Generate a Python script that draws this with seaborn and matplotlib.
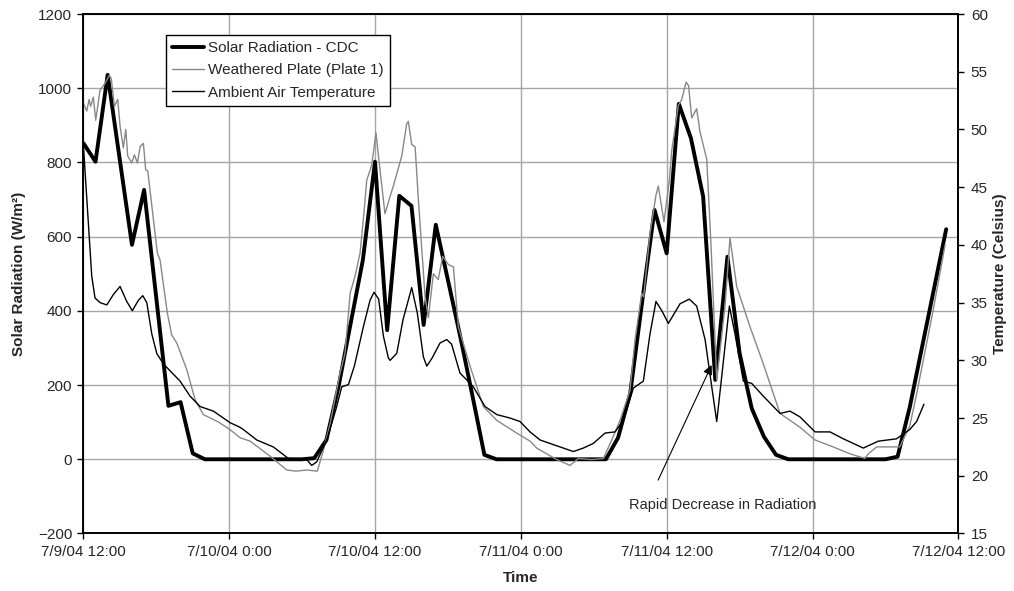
import matplotlib
matplotlib.use("Agg")
import matplotlib.pyplot as plt
import numpy as np
import pandas as pd
import seaborn as sns

# ---------------- data ----------------
# hours since 7/9/04 12:00
solar_hours = list(range(72))
solar_rad = [852, 802, 1036, 807, 578, 726, 435, 144, 154, 16,
             0, 0, 0, 0, 0, 0, 0, 0, 0, 3,
             52, 196, 367, 537, 802, 348, 710, 683, 362, 632,
             483, 333, 174, 12, 0, 0, 0, 0, 0, 0,
             0, 0, 0, 0, 58, 178, 429, 672, 555, 958,
             865, 708, 214, 546, 286, 137, 61, 12, 0, 0,
             0, 0, 0, 0, 0, 0, 0, 7, 140, 300,
             460, 620]

plate_hours = [0, 0.28, 0.47, 0.6, 0.82, 1.02, 1.37, 1.79, 2.14, 2.3,
               2.55, 2.83, 3.02, 3.29, 3.49, 3.65, 3.98, 4.2, 4.45, 4.67,
               4.94, 5.13, 5.3, 6.09, 6.31, 6.91, 7.27, 7.69, 8.51, 9.19,
               9.87, 10.84, 11.2, 12.07, 12.89, 13.72, 15.36, 16.74, 17.5, 18.38,
               19.25, 19.75, 20.3, 21.12, 21.53, 21.95, 22.36, 22.77, 23.04, 23.32,
               23.73, 24.08, 24.41, 24.82, 25.24, 25.51, 26.2, 26.61, 26.74, 27.02,
               27.3, 27.57, 28.12, 28.39, 28.8, 29.2, 29.57, 30.03, 30.45, 30.86,
               31.82, 32.91, 34.02, 35.66, 36.76, 37.31, 38.95, 40.05, 40.73, 41.83,
               42.79, 43.48, 44.16, 44.98, 45.4, 45.95, 46.1, 46.63, 47.12, 47.31,
               47.78, 48.22, 48.42, 48.96, 49.24, 49.6, 49.8, 50.06, 50.47, 50.74,
               51.3, 51.63, 52.12, 52.8, 53.21, 53.76, 54.86, 55.95, 57.33, 58.97,
               60.21, 61.71, 63.09, 64.32, 64.59, 65.28, 66.08, 67.18, 68.0, 68.57,
               69.94, 70.91]
plate_temp = [52.3, 51.6, 52.6, 52.0, 52.8, 50.8, 53.4, 54.0, 54.7, 54.4,
              52.0, 52.6, 50.3, 48.4, 50.0, 47.7, 47.1, 47.8, 47.1, 48.5,
              48.8, 46.5, 46.4, 39.3, 38.7, 34.1, 32.2, 31.5, 29.2, 26.6,
              25.3, 24.8, 24.6, 24.0, 23.3, 23.0, 21.7, 20.5, 20.4, 20.5,
              20.4, 22.2, 24.5, 28.9, 30.6, 35.8, 37.3, 39.3, 42.2, 45.6,
              46.9, 49.7, 46.5, 42.7, 44.2, 45.1, 47.7, 50.5, 50.7, 48.7,
              48.5, 43.9, 35.5, 33.7, 37.5, 37.0, 39.0, 38.3, 38.1, 32.9,
              29.5, 26.0, 24.8, 23.7, 23.0, 22.4, 21.4, 20.9, 21.5, 21.4,
              21.5, 23.1, 24.8, 27.4, 31.8, 35.8, 35.5, 41.0, 44.3, 45.1,
              42.0, 45.6, 48.2, 52.1, 52.6, 54.1, 53.8, 51.0, 51.8, 49.8,
              47.4, 40.4, 28.3, 34.7, 40.6, 36.4, 32.9, 29.7, 25.4, 24.2,
              23.1, 22.5, 21.9, 21.5, 21.9, 22.5, 22.5, 22.5, 24.3, 27.1,
              34.4, 40.0]

air_hours = [0, 0.69, 0.96, 1.37, 1.93, 2.47, 3.02, 3.57, 4.03, 4.53,
             4.89, 5.22, 5.63, 6.04, 6.58, 7.96, 8.78, 9.6, 10.7, 12.07,
             12.89, 13.17, 14.27, 15.63, 16.87, 18.38, 18.79, 19.2, 20.03, 20.85,
             21.26, 21.81, 22.3, 23.04, 23.59, 23.92, 24.3, 24.69, 25.1, 25.24,
             25.79, 26.3, 27.02, 27.48, 27.98, 28.26, 28.7, 29.35, 29.9, 30.3,
             30.99, 31.55, 32.09, 33.05, 34.02, 35.11, 35.93, 36.76, 37.58, 38.67,
             39.5, 40.32, 41.14, 41.96, 42.93, 43.75, 44.43, 45.26, 46.08, 46.63,
             47.12, 47.6, 48.14, 49.1, 49.86, 50.47, 51.16, 51.71, 52.12, 52.53,
             53.16, 53.62, 54.31, 55.0, 55.95, 57.33, 58.15, 58.97, 60.21, 61.44,
             62.54, 64.18, 65.42, 66.91, 68.0, 68.57, 69.17]
air_temp = [48.7, 37.3, 35.4, 35.0, 34.8, 35.7, 36.4, 35.1, 34.3, 35.2,
            35.6, 35.0, 32.3, 30.6, 29.7, 28.2, 26.9, 26.0, 25.6, 24.6,
            24.2, 24.0, 23.1, 22.5, 21.5, 21.4, 20.9, 21.2, 23.1, 26.0,
            27.7, 27.9, 29.5, 32.9, 35.2, 35.9, 35.3, 32.1, 30.2, 30.0,
            30.6, 33.5, 36.3, 34.1, 30.3, 29.5, 30.2, 31.5, 31.8, 31.4,
            28.9, 28.3, 27.7, 26.0, 25.3, 25.0, 24.7, 23.8, 23.1, 22.7,
            22.4, 22.1, 22.4, 22.8, 23.7, 23.8, 24.8, 27.6, 28.2, 32.3,
            35.1, 34.3, 33.2, 34.9, 35.3, 34.7, 31.8, 27.7, 24.7, 28.6,
            34.7, 32.3, 28.2, 28.0, 26.9, 25.4, 25.6, 25.1, 23.8, 23.8,
            23.2, 22.4, 23.0, 23.2, 24.0, 24.7, 26.2]

tick_hours = [0, 12, 24, 36, 48, 60, 72]
tick_labels = ["7/9/04 12:00", "7/10/04 0:00", "7/10/04 12:00", "7/11/04 0:00",
               "7/11/04 12:00", "7/12/04 0:00", "7/12/04 12:00"]

series_labels = ["Solar Radiation - CDC", "Weathered Plate (Plate 1)", "Ambient Air Temperature"]
annotation_text = "Rapid Decrease in Radiation"
annot_tip = (51.7, 254)
annot_tail = (47.3, -56)
annot_text_pos = (52.6, -123)

# ---------------- plot ----------------
sns.set_style("white")
plt.rcParams["font.family"] = ["Liberation Sans", "DejaVu Sans"]
plt.rcParams["font.size"] = 11

df_solar = pd.DataFrame({"h": solar_hours, "v": solar_rad})
df_plate = pd.DataFrame({"h": plate_hours, "v": plate_temp})
df_air = pd.DataFrame({"h": air_hours, "v": air_temp})

fig = plt.figure(figsize=(10.14, 5.91), dpi=100)
ax = fig.add_axes([0.0822, 0.0973, 0.8629, 0.8790])
ax2 = ax.twinx()

sns.lineplot(data=df_solar, x="h", y="v", ax=ax, color="black", lw=2.8,
             label=series_labels[0], errorbar=None, sort=False)
sns.lineplot(data=df_plate, x="h", y="v", ax=ax2, color="#888888", lw=1.0,
             label=series_labels[1], errorbar=None, sort=False)
sns.lineplot(data=df_air, x="h", y="v", ax=ax2, color="black", lw=1.0,
             label=series_labels[2], errorbar=None, sort=False)

for a in (ax, ax2):
    if a.get_legend() is not None:
        a.get_legend().remove()

ax.set_xlim(0, 72)
ax.set_ylim(-200, 1200)
ax2.set_ylim(15, 60)
ax.set_yticks(np.arange(-200, 1201, 200))
ax2.set_yticks(np.arange(15, 61, 5))
ax.set_xticks(tick_hours)
ax.set_xticklabels(tick_labels)

ax.grid(True, color="#a6a6a6", lw=1.0)
ax.set_axisbelow(True)
ax2.grid(False)

for a in (ax, ax2):
    for s in a.spines.values():
        s.set_color("black")
        s.set_linewidth(1.2)
ax.tick_params(axis="both", direction="out", length=4, width=1, color="black",
               labelsize=11, pad=4, left=True, bottom=True)
ax2.tick_params(axis="y", direction="out", length=4, width=1, color="black",
                labelsize=11, pad=5, right=True)

ax.set_xlabel("Time", fontweight="bold", fontsize=11)
ax.set_ylabel("Solar Radiation (W/m²)", fontweight="bold", fontsize=11)
ax2.set_ylabel("Temperature (Celsius)", fontweight="bold", fontsize=11)
ax.xaxis.set_label_coords(0.5, -0.072)
ax.yaxis.set_label_coords(-0.066, 0.5)
ax2.yaxis.set_label_coords(1.040, 0.5)

ax2.annotate("", xy=ax2.transData.inverted().transform(ax.transData.transform(annot_tip)),
             xytext=ax2.transData.inverted().transform(ax.transData.transform(annot_tail)),
             arrowprops=dict(arrowstyle="-|>", color="black", lw=0.8, mutation_scale=14,
                             shrinkA=0, shrinkB=0))
ax.text(annot_text_pos[0], annot_text_pos[1], annotation_text, ha="center", va="center",
        fontsize=10.5)

h1, l1 = ax.get_legend_handles_labels()
h2, l2 = ax2.get_legend_handles_labels()
leg = ax2.legend(h1 + h2, l1 + l2, loc="upper left", bbox_to_anchor=(0.094, 0.96),
                 borderaxespad=0, fancybox=False, framealpha=1, edgecolor="black",
                 fontsize=11, handlelength=2.1, handletextpad=0.3, labelspacing=0.55,
                 borderpad=0.4)
leg.get_frame().set_linewidth(1.0)

fig.savefig("out.png", dpi=100)
